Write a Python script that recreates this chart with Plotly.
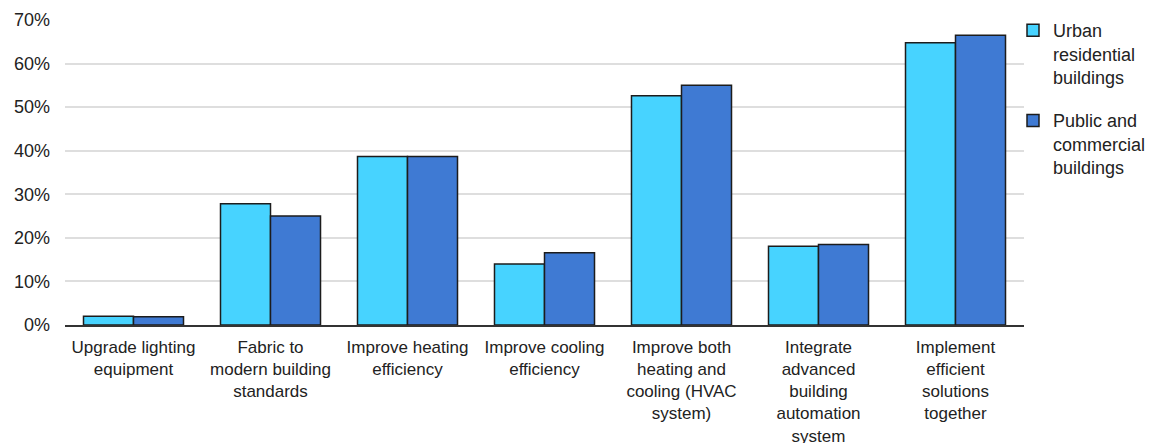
import plotly.graph_objects as go

# Efficiency measures and share of savings per building type
categories = [
    "Upgrade lighting<br>equipment",
    "Fabric to<br>modern building<br>standards",
    "Improve heating<br>efficiency",
    "Improve cooling<br>efficiency",
    "Improve both<br>heating and<br>cooling (HVAC<br>system)",
    "Integrate<br>advanced<br>building<br>automation<br>system",
    "Implement<br>efficient<br>solutions<br>together",
]
urban_residential = [2.0, 27.8, 38.7, 14.0, 52.6, 18.1, 64.8]
public_commercial = [1.9, 25.0, 38.7, 16.6, 55.0, 18.5, 66.5]

y_ticks = [0, 10, 20, 30, 40, 50, 60, 70]
y_tick_labels = [f"{v}%" for v in y_ticks]

FONT = "Liberation Sans, Arial, sans-serif"
TEXT = "#222222"
OUTLINE = dict(color="#1c1c1c", width=1.5)

fig = go.Figure()
fig.add_trace(go.Bar(
    x=categories, y=urban_residential,
    name="Urban<br>residential<br>buildings",
    marker=dict(color="#47D3FF", line=OUTLINE),
    legendgroup="a",
))
fig.add_trace(go.Bar(
    x=categories, y=public_commercial,
    name="Public and<br>commercial<br>buildings",
    marker=dict(color="#3F7AD3", line=OUTLINE),
    legendgroup="b",
))

fig.update_layout(
    width=1152, height=443,
    margin=dict(l=65, r=128, t=20, b=117.5, autoexpand=False),
    paper_bgcolor="white", plot_bgcolor="white",
    font=dict(family=FONT, size=18, color=TEXT),
    barmode="group", bargap=0.27, bargroupgap=0,
    showlegend=True,
    legend=dict(
        xref="container", x=1013 / 1152, xanchor="left",
        yref="container", y=1 - 12 / 443, yanchor="top",
        valign="top", traceorder="grouped", tracegroupgap=17,
        font=dict(family=FONT, size=18, color=TEXT),
        bgcolor="rgba(0,0,0,0)", itemwidth=30,
    ),
)
fig.update_xaxes(
    type="category", showgrid=False, showline=True,
    linecolor="#333333", linewidth=1.5, ticks="",
    tickfont=dict(size=17), ticklabelstandoff=6, automargin=False,
)
fig.update_yaxes(
    range=[0, 70], tickvals=y_ticks, ticktext=y_tick_labels,
    showgrid=True, gridcolor="#dedede", gridwidth=1.5,
    zeroline=False, showline=False, ticks="",
    ticklabelstandoff=14, tickfont=dict(size=18), automargin=False,
)

fig.write_html("out.html")
